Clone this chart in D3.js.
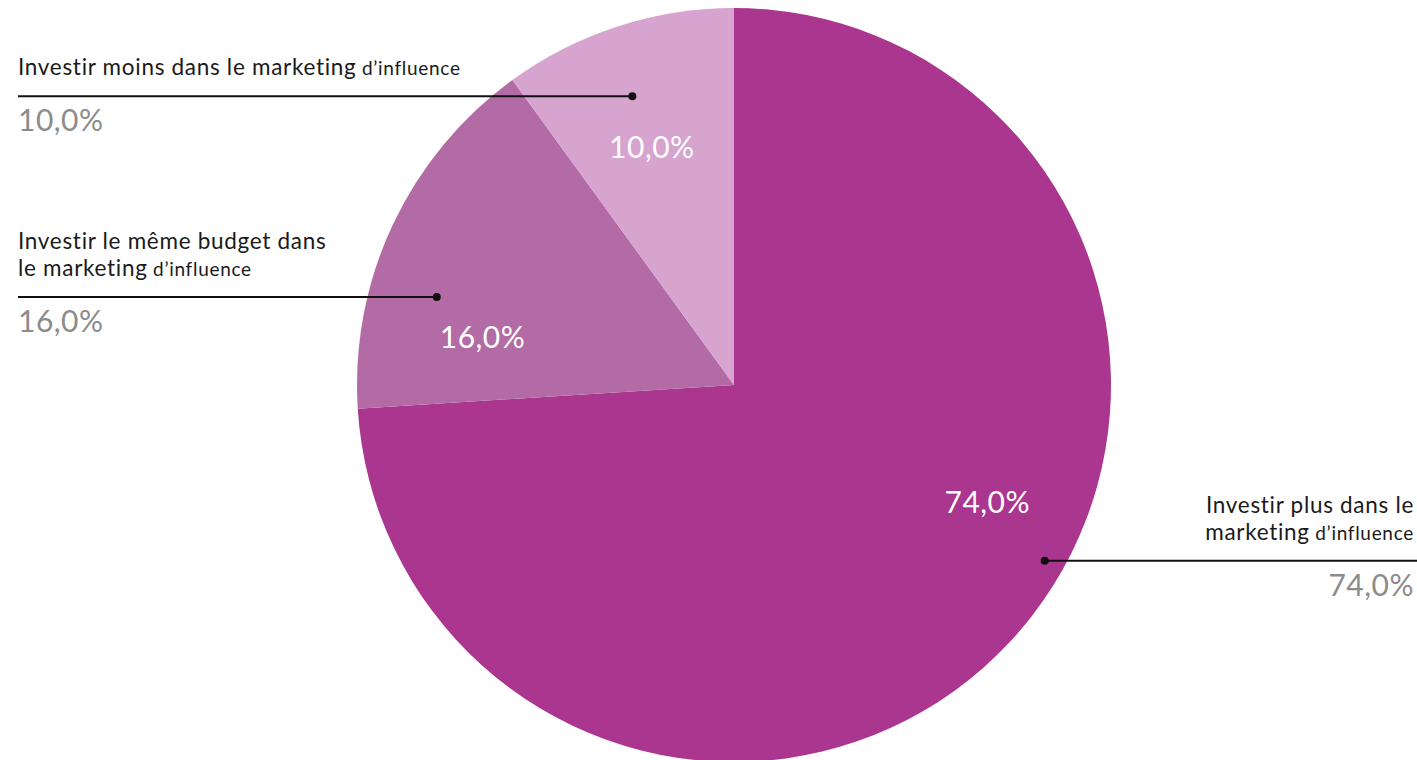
<!DOCTYPE html>
<html>
<head>
<meta charset="utf-8">
<script src="https://cdn.jsdelivr.net/npm/d3@7"></script>
<style>
  html, body { margin: 0; padding: 0; background: #fff; }
  svg { display: block; font-family: Lato, "Noto Sans", sans-serif; font-variant-ligatures: none; }
</style>
</head>
<body>
<div id="chart"></div>
<script>
// data
const categories = [
  ["Investir plus dans le", "marketing"],
  ["Investir le même budget dans", "le marketing"],
  ["Investir moins dans le marketing"]
]
const values = [74.0, 16.0, 10.0]
const colors = ["#aa368f", "#b36ba6", "#d7a3cf"]

const w = 1417
const h = 760
const cx = 734
const cy = 385
const r = 377

// where labels and callout dots sit (angle in degrees, radius)
const innerLabelPos = [[114.8, 279], [280.8, 256], [340.9, 251]]
const dotPos = [[119.5, 357], [286.5, 310], [340.6, 306]]

const fmt = v => d3.format(".1f")(v).replace(".", ",") + "%"

const svg = d3.select("#chart")
  .append("svg")
  .attr("width", w)
  .attr("height", h)

const g = svg.append("g").attr("transform", "translate(" + cx + "," + cy + ")")

const pie = d3.pie().sort(null).value(d => d)
const arc = d3.arc().innerRadius(0).outerRadius(r)
const arcs = pie(values)

g.selectAll("path.slice")
  .data(arcs)
  .enter()
  .append("path")
  .attr("class", "slice")
  .attr("d", arc)
  .attr("fill", (d, i) => colors[i])

// inner labels
g.selectAll("text.inner")
  .data(arcs)
  .enter()
  .append("text")
  .attr("class", "inner")
  .attr("transform", (d, i) => {
    const p = d3.pointRadial(innerLabelPos[i][0] * Math.PI / 180, innerLabelPos[i][1])
    return "translate(" + p[0] + "," + p[1] + ")"
  })
  .attr("text-anchor", "middle")
  .attr("dy", "0.35em")
  .attr("fill", "#fff")
  .attr("font-size", 30)
  .attr("letter-spacing", 0.5)
  .text(d => fmt(d.data))

// callouts
const dots = dotPos.map(p => {
  const q = d3.pointRadial(p[0] * Math.PI / 180, p[1])
  return [q[0] + cx, q[1] + cy]
})

const callouts = [
  { i: 0, side: "right" },
  { i: 1, side: "left" },
  { i: 2, side: "left" }
]

callouts.forEach(c => {
  const d = dots[c.i]
  const x0 = c.side === "left" ? 18 : w
  svg.append("line")
    .attr("x1", x0).attr("x2", d[0])
    .attr("y1", d[1]).attr("y2", d[1])
    .attr("stroke", "#111")
    .attr("stroke-width", 2)
  svg.append("circle")
    .attr("cx", d[0]).attr("cy", d[1]).attr("r", 4)
    .attr("fill", "#111")

  const tx = c.side === "left" ? 18 : w - 3
  const anchor = c.side === "left" ? "start" : "end"
  const lines = categories[c.i]
  const lh = 27
  const firstY = d[1] - 21 - (lines.length - 1) * lh
  const t = svg.append("text")
    .attr("text-anchor", anchor)
    .attr("fill", "#1a1a1a")
    .attr("font-size", 22.5)
    .attr("letter-spacing", 0.7)
  lines.forEach((ln, k) => {
    t.append("tspan")
      .attr("x", tx)
      .attr("y", firstY + k * lh)
      .text(ln)
    if (k === lines.length - 1) {
      t.append("tspan").attr("font-size", 19).text(" d\u2019influence")
    }
  })
  svg.append("text")
    .attr("x", tx)
    .attr("y", d[1] + 35)
    .attr("text-anchor", anchor)
    .attr("fill", "#8c8c8c")
    .attr("font-size", 30)
    .attr("letter-spacing", 0.5)
    .text(fmt(values[c.i]))
})
</script>
</body>
</html>
